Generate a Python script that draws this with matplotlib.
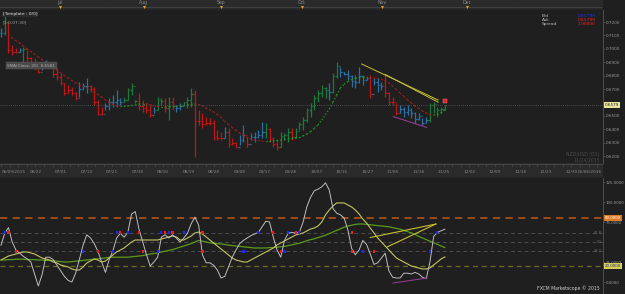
import numpy as np
import matplotlib.pyplot as plt
from matplotlib.collections import LineCollection

# NZD/USD daily bars, 06/09/2015 .. 11/24/2015
highs = [0.7153, 0.7252, 0.7193, 0.7028, 0.7004, 0.7006, 0.7013, 0.6991, 0.6939, 0.6931,
         0.6864, 0.6902, 0.6917, 0.6902, 0.6879, 0.6857, 0.6820, 0.6745, 0.6730, 0.6715,
         0.6678, 0.6752, 0.6745, 0.6782, 0.6730, 0.6715, 0.6618, 0.6566, 0.6596, 0.6633,
         0.6655, 0.6693, 0.6633, 0.6640, 0.6708, 0.6745, 0.6618, 0.6670, 0.6618, 0.6596,
         0.6581, 0.6566, 0.6640, 0.6633, 0.6633, 0.6640, 0.6640, 0.6581, 0.6596, 0.6603,
         0.6640, 0.6708, 0.6693, 0.6544, 0.6521, 0.6491, 0.6484, 0.6469, 0.6394, 0.6379,
         0.6417, 0.6409, 0.6335, 0.6305, 0.6357, 0.6432, 0.6342, 0.6372, 0.6379, 0.6394,
         0.6454, 0.6447, 0.6409, 0.6342, 0.6320, 0.6379, 0.6372, 0.6409, 0.6409, 0.6409,
         0.6454, 0.6491, 0.6558, 0.6596, 0.6655, 0.6693, 0.6730, 0.6715, 0.6745, 0.6820,
         0.6902, 0.6864, 0.6827, 0.6842, 0.6805, 0.6805, 0.6864, 0.6805, 0.6790, 0.6805,
         0.6782, 0.6782, 0.6752, 0.6805, 0.6678, 0.6640, 0.6596, 0.6581, 0.6566, 0.6581,
         0.6558, 0.6529, 0.6521, 0.6484, 0.6491, 0.6596, 0.6603, 0.6566, 0.6566, 0.6581]
lows = [0.7090, 0.7103, 0.6969, 0.6954, 0.6966, 0.6976, 0.6879, 0.6894, 0.6864, 0.6842,
        0.6820, 0.6842, 0.6879, 0.6857, 0.6790, 0.6767, 0.6730, 0.6655, 0.6670, 0.6655,
        0.6618, 0.6640, 0.6693, 0.6670, 0.6678, 0.6581, 0.6506, 0.6506, 0.6544, 0.6544,
        0.6566, 0.6566, 0.6581, 0.6603, 0.6618, 0.6655, 0.6596, 0.6544, 0.6529, 0.6521,
        0.6491, 0.6521, 0.6544, 0.6581, 0.6529, 0.6469, 0.6544, 0.6529, 0.6544, 0.6581,
        0.6558, 0.6566, 0.6193, 0.6432, 0.6409, 0.6432, 0.6432, 0.6320, 0.6320, 0.6320,
        0.6335, 0.6267, 0.6282, 0.6260, 0.6282, 0.6305, 0.6267, 0.6320, 0.6305, 0.6335,
        0.6335, 0.6335, 0.6305, 0.6267, 0.6245, 0.6267, 0.6320, 0.6305, 0.6320, 0.6335,
        0.6394, 0.6394, 0.6454, 0.6491, 0.6544, 0.6603, 0.6640, 0.6633, 0.6618, 0.6670,
        0.6782, 0.6790, 0.6805, 0.6767, 0.6715, 0.6708, 0.6745, 0.6730, 0.6767, 0.6633,
        0.6730, 0.6678, 0.6693, 0.6640, 0.6581, 0.6581, 0.6506, 0.6521, 0.6491, 0.6506,
        0.6484, 0.6447, 0.6469, 0.6432, 0.6447, 0.6454, 0.6521, 0.6491, 0.6521, 0.6544]
closes = [0.7120, 0.7200, 0.6990, 0.6975, 0.6975, 0.6990, 0.7000, 0.6930, 0.6880, 0.6870,
          0.6830, 0.6870, 0.6900, 0.6870, 0.6810, 0.6790, 0.6745, 0.6670, 0.6690, 0.6670,
          0.6630, 0.6700, 0.6720, 0.6720, 0.6700, 0.6600, 0.6515, 0.6515, 0.6570, 0.6600,
          0.6600, 0.6620, 0.6600, 0.6620, 0.6690, 0.6720, 0.6610, 0.6570, 0.6560, 0.6540,
          0.6510, 0.6540, 0.6620, 0.6610, 0.6560, 0.6600, 0.6570, 0.6560, 0.6570, 0.6600,
          0.6620, 0.6660, 0.6460, 0.6460, 0.6440, 0.6450, 0.6450, 0.6340, 0.6335, 0.6335,
          0.6380, 0.6290, 0.6300, 0.6270, 0.6320, 0.6360, 0.6290, 0.6340, 0.6340, 0.6360,
          0.6380, 0.6400, 0.6330, 0.6290, 0.6270, 0.6350, 0.6360, 0.6380, 0.6340, 0.6390,
          0.6440, 0.6470, 0.6540, 0.6570, 0.6630, 0.6670, 0.6710, 0.6690, 0.6680, 0.6800,
          0.6870, 0.6830, 0.6815, 0.6800, 0.6760, 0.6750, 0.6800, 0.6770, 0.6780, 0.6660,
          0.6750, 0.6730, 0.6720, 0.6670, 0.6600, 0.6600, 0.6520, 0.6550, 0.6530, 0.6540,
          0.6520, 0.6480, 0.6500, 0.6450, 0.6470, 0.6580, 0.6590, 0.6540, 0.6550, 0.6579]
bar_colors = ("bgrrrbgrrr" "rbbrrrrrrr" "rbbbrrrrbb" "bbbggggrrr"
              "rbggrgrbbg" "ggrrrrrrrr" "brrrbbrbbb" "bgrrrgggrg"
              "ggggggggbg" "gbbbbbbbbr" "bbbrrrrbbb" "bbbbbggggg")

# moving average drawn as coloured dots
ma = [np.nan, np.nan, 0.7103, 0.7081, 0.7062, 0.7043, 0.7021, 0.6999, 0.6980, 0.6961,
      0.6939, 0.6920, 0.6902, 0.6879, 0.6861, 0.6842, 0.6820, 0.6801, 0.6782, 0.6764,
      0.6745, 0.6730, 0.6719, 0.6708, 0.6693, 0.6678, 0.6659, 0.6640, 0.6618, 0.6599,
      0.6585, 0.6573, 0.6570, 0.6570, 0.6573, 0.6577, 0.6581, 0.6588, 0.6592, 0.6592,
      0.6585, 0.6577, 0.6570, 0.6566, 0.6566, 0.6570, 0.6570, 0.6570, 0.6573, 0.6577,
      0.6581, 0.6585, 0.6588, 0.6585, 0.6573, 0.6558, 0.6544, 0.6529, 0.6510, 0.6488,
      0.6461, 0.6435, 0.6413, 0.6391, 0.6372, 0.6353, 0.6338, 0.6327, 0.6320, 0.6316,
      0.6312, 0.6309, 0.6309, 0.6312, 0.6316, 0.6320, 0.6323, 0.6327, 0.6331, 0.6335,
      0.6338, 0.6350, 0.6364, 0.6383, 0.6406, 0.6432, 0.6469, 0.6510, 0.6551, 0.6603,
      0.6655, 0.6708, 0.6737, 0.6756, 0.6771, 0.6779, 0.6786, 0.6790, 0.6790, 0.6786,
      0.6782, 0.6779, 0.6771, 0.6760, 0.6745, 0.6723, 0.6696, 0.6670, 0.6644, 0.6618,
      0.6596, 0.6573, 0.6555, 0.6536, 0.6521, 0.6510, 0.6506, 0.6510, 0.6521, 0.6544]

# oscillator panel
osc_fast = [46, 61, 68, 50, 40, 36, 32, 29, 25, 10,
            -5, 9, 31, 31, 28, 21, 14, 7, 2, 0,
            11, 28, 46, 59, 55, 48, 38, 25, 12, 28,
            39, 55, 61, 56, 62, 85, 88, 66, 50, 34,
            20, 25, 31, 56, 59, 55, 59, 55, 50, 55,
            61, 73, 81, 71, 34, 24, 24, 21, 15, 5,
            7, 19, 31, 40, 48, 52, 55, 58, 60, 62,
            69, 76, 75, 56, 40, 31, 52, 61, 62, 61,
            62, 75, 94, 106, 114, 116, 119, 124, 115, 92,
            86, 84, 80, 65, 42, 34, 40, 52, 47, 35,
            22, 24, 30, 36, 14, 6, 5, 5, 11, 11,
            10, 12, 10, 6, 4, 25, 57, 62, 64, 66]
osc_slow = [27.5, 30, 32.5, 33.8, 35, 36.3, 37.5, 37.5, 36.3, 35,
            32.5, 30, 28.8, 27.5, 25, 23.8, 21.3, 20, 18.8, 16.3,
            15, 15, 18.8, 23.8, 26.3, 28.8, 27.5, 25, 26.3, 30,
            33.8, 37.5, 40, 42.5, 46.3, 50, 52.5, 52.5, 52.5, 52.5,
            52.5, 52.5, 52.5, 53.8, 55, 56.3, 57.5, 56.3, 52.5, 52.5,
            55, 57.5, 61.3, 62.5, 60, 56.3, 52.5, 48.8, 45, 41.3,
            37.5, 33.8, 30, 27.5, 26.3, 25, 25, 27.5, 30, 32.5,
            35, 37.5, 40, 42.5, 46.3, 48.8, 51.3, 53.8, 56.3, 58.8,
            60, 61.3, 63.8, 66.3, 67.5, 70, 75, 83.8, 90, 95,
            98.8, 98.8, 98.8, 96.3, 93.8, 90, 85, 78.8, 73.8, 67.5,
            61.3, 55, 50, 45, 40, 35, 30, 27.5, 25, 22.5,
            20, 18.8, 17.5, 16.3, 16.3, 17.5, 21.3, 25, 28.8, 31.3]
osc_trend = [27.5, 27.5, 28, 28, 28.5, 28.5, 28.5, 28, 28, 28,
             27.5, 27.5, 27, 27, 26.5, 26, 25.5, 25, 25, 25.5,
             26, 26.5, 27, 27.5, 28, 28.5, 29, 29.5, 30, 31,
             31, 31, 31, 31, 31, 31.5, 32, 32.5, 33, 34,
             35, 35.5, 36.5, 37.5, 38.5, 39.5, 40.5, 42, 43.5, 45,
             46.5, 48, 50, 52, 51, 50, 49, 48.5, 48, 47.5,
             47, 46, 45.5, 45, 44.5, 44, 43.5, 43, 42.5, 42.5,
             42.5, 42.5, 43, 43, 43.5, 44, 44.5, 45.5, 46.5, 47.5,
             48.5, 50, 51.5, 53, 54, 55.5, 57, 58.5, 60.5, 62.5,
             64.5, 66.5, 68.5, 70, 71, 72, 72.5, 72.5, 72, 71.5,
             71, 70.5, 70, 69.5, 69, 68, 67, 66, 64.5, 63,
             61.5, 59.5, 57, 55, 53, 51, 49, 47, 45, 43]
sig_bar = [1, 2, 4, 22, 26, 30, 31, 32, 34, 37, 38, 42, 43, 44, 45, 46, 49, 54, 54,
           65, 69, 73, 75, 76, 77, 79, 80, 94, 94, 97, 100, 115, 117]
sig_level = [61.8, 61.8, 38.2, 38.2, 38.2, 38.2, 61.8, 61.8, 61.8, 61.8, 38.2, 38.2, 61.8,
             61.8, 61.8, 61.8, 61.8, 61.8, 38.2, 38.2, 61.8, 61.8, 38.2, 38.2, 61.8, 61.8,
             61.8, 61.8, 38.2, 38.2, 38.2, 38.2, 61.8]
sig_dir = "brrbrbbrbrrbbrbrbrrbbrrbbrbrrbrbb"

date_labels = ['06/09/2015', '06/22', '07/01', '07/13', '07/21', '07/30', '08/10', '08/19',
               '08/28', '09/08', '09/17', '09/28', '10/07', '10/16', '10/27', '11/05',
               '11/16', '11/25', '12/02', '12/09', '12/16', '12/23', '12/30', '01/06/2016']
months = ['Jul', 'Aug', 'Sep', 'Oct', 'Nov', 'Dec']
month_bar = [15.8, 38.3, 59.0, 80.7, 102.1, 125.0]
price_ticks = [0.62, 0.63, 0.64, 0.65, 0.67, 0.68, 0.69, 0.70, 0.71, 0.72]
osc_ticks = [0, 25, 75, 100, 125]
fib_levels = [61.8, 50, 38.2]

# hand drawn objects
trend1_x, trend1_y = [96.7, 117.2], [0.6887, 0.6618]
trend2_x, trend2_y = [103.0, 117.2], [0.6809, 0.6602]
purple_x, purple_y = [105.2, 114.1], [0.6494, 0.6414]
osc_line1_x, osc_line1_y = [99.0, 116.6], [55.6, 72.5]
osc_line2_x, osc_line2_y = [103.5, 116.6], [43.8, 72.5]
osc_purple_x, osc_purple_y = [105.1, 114.2], [-1.3, 5.0]

BG = '#1f1f1f'
STRIP = '#2a2a2a'
TXT = '#9c9c9c'
cmap = {'r': '#c21616', 'b': '#2a6fa6', 'g': '#1d7a3c'}

W, H = 625, 294
fig = plt.figure(figsize=(W / 100, H / 100), dpi=100, facecolor=BG)


def rect(x0, y0, x1, y1):
    return [x0 / W, 1 - y1 / H, (x1 - x0) / W, (y1 - y0) / H]


XL = (-0.27, 161.4)
ax_top = fig.add_axes(rect(0, 0, 603, 10))
ax = fig.add_axes(rect(0, 10, 603, 163))
ax_date = fig.add_axes(rect(0, 163, 603, 178))
ax_osc = fig.add_axes(rect(0, 178, 603, 294))

for a in (ax_top, ax, ax_date, ax_osc):
    a.set_xlim(*XL)
    for s in a.spines.values():
        s.set_visible(False)
    a.tick_params(axis='x', bottom=False, labelbottom=False)
ax_top.set_facecolor(STRIP)
ax_date.set_facecolor(STRIP)
ax.set_facecolor(BG)
ax_osc.set_facecolor(BG)

# ---- top strip (months)
ax_top.set_ylim(0, 1)
ax_top.set_yticks([])
ax_top.axhline(0.3, color='#444444', lw=0.6)
ax_top.axhline(0.02, color='#111111', lw=1.0)
ax_top.vlines(np.arange(0, 162, 2.28), 0.3, 0.45, color='#4a4a4a', lw=0.4)
for m, p in zip(months, month_bar):
    ax_top.text(p, 0.72, m, color='#8a8a8a', fontsize=3.3, ha='center', va='center')
    ax_top.plot(p, 0.28, marker='v', ms=2.2, color='#e0a020', mew=0)

# ---- main price panel
idx = np.arange(len(closes))
cols = [cmap[c] for c in bar_colors]
opens = np.r_[closes[0], closes[:-1]]
ax.vlines(idx, lows, highs, colors=cols, lw=0.9)
ax.hlines(opens, idx - 0.4, idx, colors=cols, lw=0.9)
ax.hlines(closes, idx, idx + 0.4, colors=cols, lw=0.9)

ma_arr = np.array(ma)
segs, seg_cols = [], []
for i in range(1, len(ma_arr)):
    if np.isnan(ma_arr[i - 1]) or np.isnan(ma_arr[i]):
        continue
    segs.append([(i - 1, ma_arr[i - 1]), (i, ma_arr[i])])
    seg_cols.append('#22a022' if ma_arr[i] >= ma_arr[i - 1] else '#a81e1e')
ax.add_collection(LineCollection(segs, colors=seg_cols, lw=0.9, linestyles=(0, (1, 1.6))))

ax.axhline(closes[-1], color='#5a5a5a', lw=0.6, ls=(0, (1, 1.5)))
ax.plot(trend1_x, trend1_y, color='#c8c030', lw=0.7)
ax.plot(trend2_x, trend2_y, color='#c8c030', lw=0.7)
ax.plot(purple_x, purple_y, color='#8e3c8e', lw=0.8)
ax.plot(idx[-1], highs[-1] + 0.0030, marker='s', ms=2.6, color='#e02020',
        mec='#ff8080', mew=0.3)

ax.set_ylim(0.6148, 0.7290)
ax.yaxis.tick_right()
ax.set_yticks(price_ticks)
ax.set_yticklabels([f'{t:.4f}' for t in price_ticks])
ax.tick_params(axis='y', colors='#555555', labelcolor=TXT, labelsize=3.0, length=1.5,
               width=0.5, pad=0.8)
ax.spines['right'].set_visible(True)
ax.spines['right'].set_color('#555555')
ax.spines['right'].set_linewidth(0.6)
ax.annotate(f'{closes[-1]:.4f}', xy=(1.0, closes[-1]), xycoords=('axes fraction', 'data'),
            xytext=(1.2, 0), textcoords='offset points', fontsize=3.0, color='#222222',
            va='center', ha='left',
            bbox=dict(boxstyle='square,pad=0.2', fc='#e8e4a0', ec='none'))

ax.text(0.012, 0.635, 'SMA(Close, 20)  0.6581', transform=ax.transAxes, fontsize=3.0,
        color='#b0b0b0', va='center',
        bbox=dict(boxstyle='square,pad=0.35', fc='#4a4a4a', ec='#5a5a5a', lw=0.3))
ax.text(0.005, 0.985, '[Template : 0/0]', transform=ax.transAxes, fontsize=3.2,
        color='#e0e0e0', va='top',
        bbox=dict(boxstyle='square,pad=0.15', fc='#2a2a2a', ec='none'))
ax.text(0.005, 0.935, '[1:0:07:30]', transform=ax.transAxes, fontsize=3.2,
        color='#a0a0a0', va='top')
for k, (lab, val, c) in enumerate([('Bid', '0.65799', '#2233ff'),
                                   ('Ask', '0.65799', '#ff2020'),
                                   ('Spread', '1.90000', '#ff2020')]):
    y = 0.962 - k * 0.027
    ax.text(0.899, y, lab, transform=ax.transAxes, fontsize=3.2, color='#b8b8b8', va='center')
    ax.text(0.988, y, val, transform=ax.transAxes, fontsize=3.2, color=c, va='center', ha='right')
ax.text(0.995, 0.055, 'NZD/USD (D1)', transform=ax.transAxes, fontsize=3.3,
        color='#4c4c4c', ha='right', va='center')
ax.text(0.995, 0.022, '11/24/2015', transform=ax.transAxes, fontsize=3.3,
        color='#4c4c4c', ha='right', va='center')

# ---- date strip
ax_date.set_ylim(0, 1)
ax_date.set_yticks([])
ax_date.axhline(0.93, color='#454545', lw=0.8)
ax_date.axhline(0.03, color='#111111', lw=1.0)
date_pos = np.linspace(2.4, 159.8, len(date_labels))
ax_date.vlines(np.linspace(2.4 - 2 * 2.28, 159.8 + 2 * 2.28, 74), 0.75, 0.93,
               color='#505050', lw=0.4)
for k, (p, lab) in enumerate(zip(date_pos, date_labels)):
    if k == 0:
        ax_date.text(0.1, 0.42, lab, color='#8a8a8a', fontsize=3.1, ha='left', va='center')
    elif k == len(date_labels) - 1:
        ax_date.text(XL[1] - 0.2, 0.42, lab, color='#8a8a8a', fontsize=3.1, ha='right',
                     va='center')
    else:
        ax_date.text(p, 0.42, lab, color='#8a8a8a', fontsize=3.1, ha='center', va='center')

# ---- oscillator panel
ax_osc.set_ylim(-15, 130)
ax_osc.axhline(80, color='#a5501c', lw=1.3, ls=(0, (4, 3)))
ax_osc.axhline(20, color='#6e6c22', lw=0.9, ls=(0, (4, 3)))
for lv in fib_levels:
    ax_osc.axhline(lv, color='#4c4c4c', lw=0.7, ls=(0, (4, 3)))
ax_osc.plot(idx, osc_trend, color='#5a9a1c', lw=0.9)
ax_osc.plot(idx, osc_slow, color='#c4c464', lw=0.8)
ax_osc.plot(idx, osc_fast, color='#bdbdbd', lw=0.7)
ax_osc.plot(osc_line1_x, osc_line1_y, color='#c8c030', lw=0.8)
ax_osc.plot(osc_line2_x, osc_line2_y, color='#c8c030', lw=0.8)
ax_osc.plot(osc_purple_x, osc_purple_y, color='#8e3c8e', lw=0.8)
ax_osc.scatter(sig_bar, sig_level, marker='s', s=2.5, linewidths=0,
               c=['#1e28ff' if d == 'b' else '#ff1818' for d in sig_dir], zorder=5)

ax_osc.yaxis.tick_right()
ax_osc.set_yticks(osc_ticks)
ax_osc.set_yticklabels([f'{t:.4f}' for t in osc_ticks])
ax_osc.tick_params(axis='y', colors='#555555', labelcolor=TXT, labelsize=2.8, length=1.2,
                   width=0.5, pad=0.6)
ax_osc.spines['right'].set_visible(True)
ax_osc.spines['right'].set_color('#555555')
ax_osc.spines['right'].set_linewidth(0.6)
for lv in fib_levels:
    ax_osc.text(0.997, lv, f'{lv:g}', transform=ax_osc.get_yaxis_transform(),
                fontsize=2.6, color='#707070', ha='right', va='center')
for lv, fc, tc in [(80, '#e07a22', '#ffffff'), (20, '#d8d050', '#2020a0')]:
    ax_osc.annotate(f'{lv:.4f}', xy=(1.0, lv), xycoords=('axes fraction', 'data'),
                    xytext=(1.2, 0), textcoords='offset points', fontsize=2.9, color=tc,
                    va='center', ha='left', zorder=10,
                    bbox=dict(boxstyle='square,pad=0.2', fc=fc, ec='none'))
ax_osc.text(0.995, 0.025, 'FXCM Marketscope \u00a9 2015', transform=ax_osc.transAxes,
            fontsize=3.3, color='#d0d0d0', ha='right', va='bottom')

fig.savefig('out.png', dpi=100, facecolor=BG)
